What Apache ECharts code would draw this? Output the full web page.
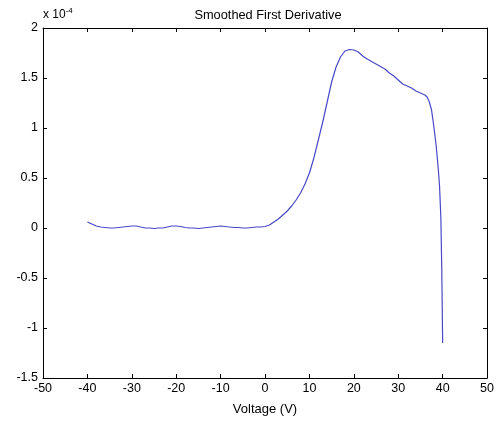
<!DOCTYPE html>
<html>
<head>
<meta charset="utf-8">
<script src="https://cdn.jsdelivr.net/npm/echarts@6/dist/echarts.min.js"></script>
<style>html,body{margin:0;padding:0;background:#fff}#c{width:497px;height:421px}</style>
</head>
<body>
<div id="c"></div>
<script>
const titleText = 'Smoothed First Derivative';
const xLabel = 'Voltage (V)';
const voltage = [-40,-39,-38,-37,-36,-35,-34,-33,-32,-31,-30,-29,-28,-27,-26,-25,-24,-23,-22,-21,-20,-19,-18,-17,-16,-15,-14,-13,-12,-11,-10,-9,-8,-7,-6,-5,-4,-3,-2,-1,0,1,2,3,4,5,6,7,8,9,10,11,12,13,14,15,16,17,18,19,20,21,22,23,24,25,26,27,28,29,30,31,32,33,34,35,36,36.5,37,37.5,38,38.5,39,39.3,39.6,39.8,40];
const derivative = [0.06,0.04,0.02,0.01,0.005,0,0,0.005,0.01,0.015,0.02,0.02,0.01,0,0,-0.005,0,0,0.01,0.02,0.02,0.015,0.005,0,0,-0.005,0,0.005,0.01,0.015,0.02,0.015,0.01,0.005,0.005,0,0,0.005,0.01,0.01,0.015,0.03,0.06,0.09,0.13,0.17,0.22,0.28,0.35,0.44,0.55,0.70,0.88,1.06,1.26,1.46,1.61,1.71,1.77,1.785,1.78,1.76,1.72,1.69,1.665,1.64,1.615,1.59,1.55,1.52,1.48,1.44,1.42,1.40,1.37,1.35,1.33,1.31,1.26,1.18,1.02,0.84,0.6,0.42,0.1,-0.4,-1.15];
const xTicks = {min: -50, max: 50, interval: 10};
const yTicks = {min: -1.5, max: 2, interval: 0.5};

const font = 'Liberation Sans, Arial, sans-serif';
const chart = echarts.init(document.getElementById('c'), null, {renderer: 'canvas'});
const axisCommon = {
  axisLine: {show: true, onZero: false, lineStyle: {color: '#000', width: 1}},
  axisTick: {show: true, inside: true, length: 4, lineStyle: {color: '#000'}},
  splitLine: {show: false}
};
chart.setOption({
  animation: false,
  backgroundColor: '#fff',
  title: {
    text: titleText, left: 263, top: 4, textAlign: 'center',
    textStyle: {fontFamily: font, fontSize: 12.8, fontWeight: 'normal', color: '#000'}
  },
  grid: {left: 43, top: 28, right: 9, bottom: 42, containLabel: false},
  xAxis: [
    Object.assign({type: 'value', position: 'bottom', min: xTicks.min, max: xTicks.max, interval: xTicks.interval,
      name: xLabel, nameLocation: 'middle', nameGap: 25,
      nameTextStyle: {fontFamily: font, fontSize: 13, color: '#000'},
      axisLabel: {fontFamily: font, fontSize: 12.5, color: '#000', margin: 4}}, axisCommon),
    Object.assign({type: 'value', position: 'top', min: xTicks.min, max: xTicks.max, interval: xTicks.interval,
      axisLabel: {show: false}}, axisCommon)
  ],
  yAxis: [
    Object.assign({type: 'value', position: 'left', min: yTicks.min, max: yTicks.max, interval: yTicks.interval,
      name: 'x 10{sup|-4}', nameLocation: 'end', nameGap: 5,
      nameTextStyle: {fontFamily: font, fontSize: 12, color: '#000', align: 'left', verticalAlign: 'bottom',
        rich: {sup: {fontFamily: font, fontSize: 8, color: '#000', verticalAlign: 'top', padding: [0, 0, 8, 0]}}},
      axisLabel: {fontFamily: font, fontSize: 12.5, color: '#000', margin: 5}}, axisCommon),
    Object.assign({type: 'value', position: 'right', min: yTicks.min, max: yTicks.max, interval: yTicks.interval,
      axisLabel: {show: false}}, axisCommon)
  ],
  series: [{
    type: 'line', xAxisIndex: 0, yAxisIndex: 0, showSymbol: false, smooth: false,
    data: voltage.map((v, i) => [v, derivative[i]]),
    lineStyle: {color: '#4848c8', width: 1.2}
  }]
});
</script>
</body>
</html>
